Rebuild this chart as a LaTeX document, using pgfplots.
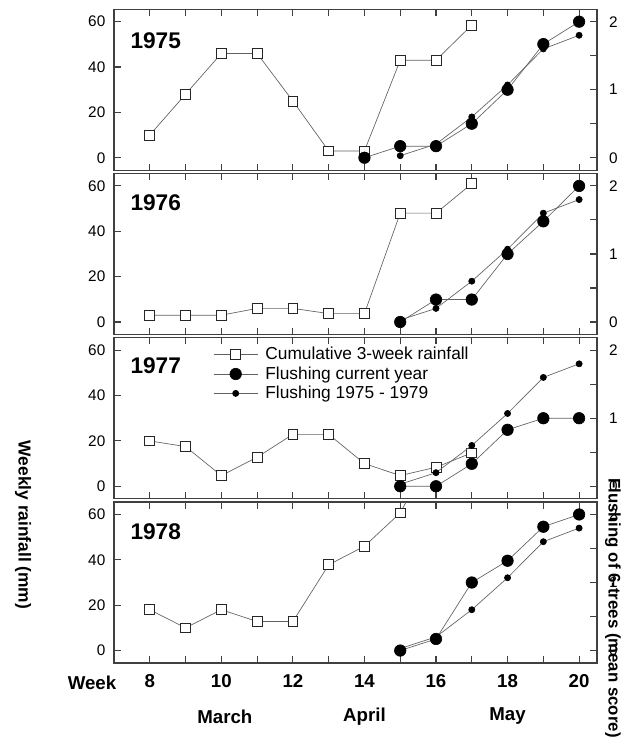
\documentclass[border=0pt]{standalone}
\usepackage{pgfplots}
\pgfplotsset{compat=1.18}
\usepackage{fontspec}
\setmainfont{Liberation Sans}
\definecolor{frame}{gray}{0.25}
\definecolor{dline}{gray}{0.38}
\tikzset{year/.style={anchor=west, font=\bfseries\fontsize{17}{19}\selectfont}}
\pgfplotsset{
  common/.style={
    scale only axis, width=362.25pt, height=120.75pt,
    xmin=7, xmax=20.5,
    /pgf/number format/assume math mode=true,
    tick align=inside, major tick length=5pt, minor tick length=5pt,
    axis line style={frame, line width=0.8pt},
    every tick/.style={frame, line width=0.8pt},
    clip mode=individual,
  },
  panel/.style={common,
    ymin=-5.5, ymax=65.5,
    xtick={8,...,20}, ytick={0,20,40,60},
    ytick pos=left, xtick pos=both,
    xticklabels={},
    yticklabel style={font=\fontsize{11.5}{13}\selectfont, xshift=-3pt},
  },
  bottompanel/.style={panel,
    xticklabels={8,,10,,12,,14,,16,,18,,20},
    xticklabel style={font=\bfseries\fontsize{14}{16}\selectfont, yshift=-5pt},
    xtick pos=both,
  },
  rpanel/.style={common,
    ymin=-0.183333, ymax=2.183333,
    axis x line=none, axis y line*=right,
    ytick={0,1,2}, minor ytick={0.5,1.5},
    yticklabel style={font=\fontsize{11.5}{13}\selectfont, xshift=5.5pt},
  },
  rain/.style={color=dline, line width=0.5pt, mark=square*, mark size=3.7pt,
    mark options={fill=white, draw=black!85, line width=0.6pt, solid}},
  cur/.style={color=dline, line width=0.5pt, mark=*, mark size=4.3pt,
    mark options={fill=black, draw=black}},
  mean/.style={color=dline, line width=0.5pt, mark=*, mark size=2.3pt,
    mark options={fill=black, draw=black}},
}
\begin{document}
\begin{tikzpicture}
\useasboundingbox (-85.5pt,6.9pt) rectangle (382.5pt,-551.1pt);

% ---------- 1975 ----------
\begin{axis}[panel, at={(0pt,0pt)}, anchor=north west]
  \addplot[rain] coordinates {(8,10)(9,28)(10,46)(11,46)(12,25)(13,3)(14,3)(15,43)(16,43)(17,58.5)};
  \node[year] at (axis cs:7.33,51.5) {1975};
\end{axis}
\begin{axis}[rpanel, at={(0pt,0pt)}, anchor=north west]
  \addplot[mean] coordinates {(15,0.03)(16,0.2)(17,0.6)(18,1.07)(19,1.6)(20,1.8)};
  \addplot[cur] coordinates {(14,0)(15,0.17)(16,0.17)(17,0.5)(18,1.0)(19,1.67)(20,2.0)};
\end{axis}

% ---------- 1976 ----------
\begin{axis}[panel, at={(0pt,-123.2pt)}, anchor=north west]
  \addplot[rain] coordinates {(8,3)(9,3)(10,3)(11,6)(12,6)(13,3.7)(14,3.7)(15,48)(16,48)(17,61)};
  \node[year] at (axis cs:7.33,52.5) {1976};
\end{axis}
\begin{axis}[rpanel, at={(0pt,-123.2pt)}, anchor=north west]
  \addplot[mean] coordinates {(15,0.03)(16,0.2)(17,0.6)(18,1.07)(19,1.6)(20,1.8)};
  \addplot[cur] coordinates {(15,0)(16,0.33)(17,0.33)(18,1.0)(19,1.48)(20,2.0)};
\end{axis}

% ---------- 1977 ----------
\begin{axis}[panel, at={(0pt,-246.4pt)}, anchor=north west]
  \addplot[rain] coordinates {(8,20)(9,17.5)(10,4.7)(11,12.8)(12,22.9)(13,22.9)(14,10)(15,4.7)(16,8.4)(17,14.7)};
  \node[year] at (axis cs:7.33,53) {1977};
\end{axis}
\begin{axis}[rpanel, at={(0pt,-246.4pt)}, anchor=north west,
  legend image code/.code={\draw[mark repeat=2,mark phase=2] plot coordinates {(0pt,0pt)(16.5pt,0pt)(33pt,0pt)};},
  legend style={at={(axis cs:9.77,2.075)}, anchor=north west, draw=none, fill=none,
    font=\fontsize{13}{14.5}\selectfont, row sep=0.6pt, inner sep=0pt,
    nodes={inner sep=1.5pt}},
  legend cell align=left,
  /tikz/every odd column/.append style={column sep=4pt}]
  \addlegendimage{rain}
  \addlegendentry{Cumulative 3-week rainfall}
  \addlegendimage{cur}
  \addlegendentry{Flushing current year}
  \addlegendimage{mean}
  \addlegendentry{Flushing 1975 - 1979}
  \addplot[mean, forget plot] coordinates {(15,0.03)(16,0.2)(17,0.6)(18,1.07)(19,1.6)(20,1.8)};
  \addplot[cur, forget plot] coordinates {(15,0)(16,0)(17,0.33)(18,0.83)(19,1.0)(20,1.0)};
\end{axis}

% ---------- 1978 ----------
\begin{axis}[bottompanel, at={(0pt,-369.6pt)}, anchor=north west]
  \addplot[rain] coordinates {(8,18)(9,10)(10,18)(11,12.8)(12,12.8)(13,37.8)(14,46)(15,60.7)(16,90)};
  \node[year] at (axis cs:7.33,52.5) {1978};
  \node[font=\bfseries\fontsize{14}{16}\selectfont] at (axis cs:6.385,-5.5) [yshift=-15pt] {Week};
  \node[font=\bfseries\fontsize{14}{16}\selectfont] at (axis cs:10.1,-5.5) [yshift=-40pt] {March};
  \node[font=\bfseries\fontsize{14}{16}\selectfont] at (axis cs:14,-5.5) [yshift=-40pt] {April};
  \node[font=\bfseries\fontsize{14}{16}\selectfont] at (axis cs:18,-5.5) [yshift=-40pt] {May};
\end{axis}
\begin{axis}[rpanel, at={(0pt,-369.6pt)}, anchor=north west]
  \addplot[mean] coordinates {(15,0.03)(16,0.2)(17,0.6)(18,1.07)(19,1.6)(20,1.8)};
  \addplot[cur] coordinates {(15,0)(16,0.17)(17,1.0)(18,1.32)(19,1.82)(20,2.0)};
\end{axis}

% axis titles
\node[rotate=-90, font=\bfseries\fontsize{13}{15}\selectfont] at (-68.25pt,-386.85pt) {Weekly rainfall (mm)};
\node[rotate=-90, font=\bfseries\fontsize{12.6}{15}\selectfont] at (374.25pt,-449pt) {Flushing of 6-trees (mean score)};
\end{tikzpicture}
\end{document}
